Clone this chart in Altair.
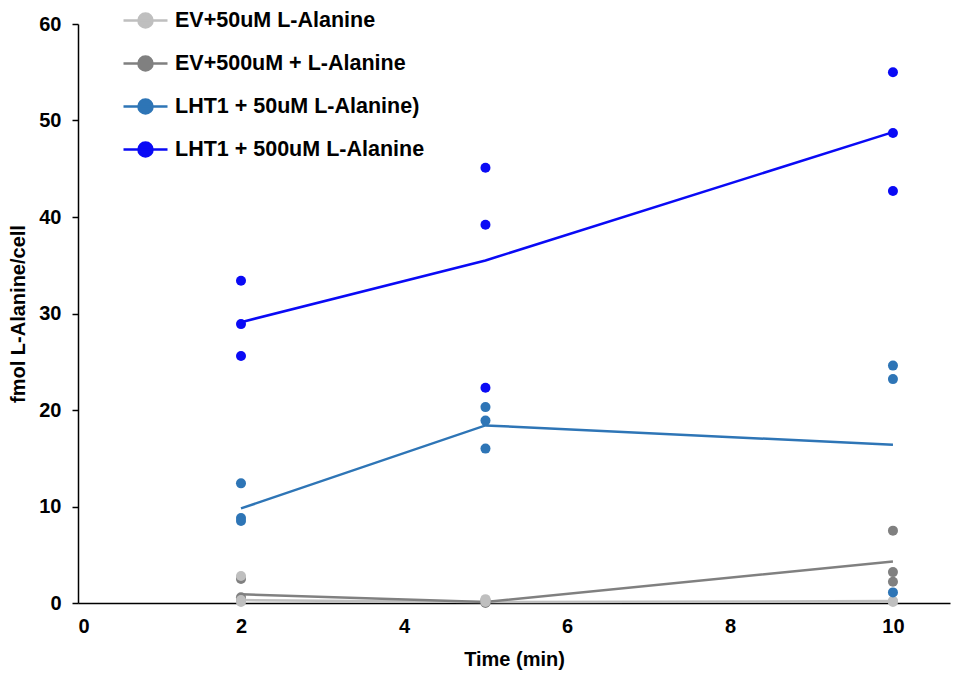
import altair as alt
import pandas as pd

series = ["EV+50uM L-Alanine", "EV+500uM + L-Alanine", "LHT1 + 50uM L-Alanine)", "LHT1 + 500uM L-Alanine"]
colors = ["#BFBFBF", "#808080", "#2E75B6", "#0A0AF5"]
times = [2, 5, 10]

# replicate measurements (3 per time point)
ev50 = [[2.8, 0.3, 0.1], [0.4, 0.2, 0.1], [0.2, 0.2, 0.1]]
ev500 = [[2.5, 0.6, 0.2], [0.3, 0.1, 0.0], [7.5, 3.2, 2.2]]
lht50 = [[12.4, 8.8, 8.5], [20.3, 18.9, 16.0], [24.6, 23.2, 1.1]]
lht500 = [[33.4, 28.9, 25.6], [45.1, 39.2, 22.3], [55.0, 48.7, 42.7]]

# mean line values
ev50_mean = [0.3, 0.1, 0.2]
ev500_mean = [0.9, 0.1, 4.3]
lht50_mean = [9.8, 18.4, 16.4]
lht500_mean = [29.1, 35.5, 48.8]

reps = [ev50, ev500, lht50, lht500]
means = [ev50_mean, ev500_mean, lht50_mean, lht500_mean]

pts = []
for s, r in zip(series, reps):
    for t, vals in zip(times, r):
        for v in vals:
            pts.append({"series": s, "time": t, "value": v})
pts = pd.DataFrame(pts)

lns = []
for s, m in zip(series, means):
    for t, v in zip(times, m):
        lns.append({"series": s, "time": t, "value": v})
lns = pd.DataFrame(lns)

FONT = "Liberation Sans"
color_scale = alt.Scale(domain=series, range=colors)

x_enc = alt.X("time:Q", title="Time (min)",
              scale=alt.Scale(domain=[0, 10.7], nice=False),
              axis=alt.Axis(values=[0, 2, 4, 6, 8, 10], grid=False, ticks=False,
                            labelPadding=13, titlePadding=13, domainColor="black",
                            domainWidth=1.5))
y_enc = alt.Y("value:Q", title="fmol L-Alanine/cell",
              scale=alt.Scale(domain=[0, 60], nice=False),
              axis=alt.Axis(values=[0, 10, 20, 30, 40, 50, 60], grid=False, tickSize=6,
                            tickColor="black", tickWidth=1.5, labelPadding=11,
                            titlePadding=10, domainColor="black", domainWidth=1.5))

sym_path = "M-1,0L1,0M0.32,0A0.32,0.32,0,1,1,-0.32,0A0.32,0.32,0,1,1,0.32,0Z"

legend = alt.Legend(orient="none", legendX=44, legendY=-27, padding=0,
                    symbolType=sym_path, symbolSize=1936, symbolStrokeWidth=2.5,
                    labelFont=FONT, labelFontSize=21.5, labelFontWeight="bold",
                    labelColor="black", labelOffset=6, rowPadding=7,
                    labelLimit=500)

lines = alt.Chart(lns).mark_line(strokeWidth=2.5).encode(
    x=x_enc, y=y_enc,
    stroke=alt.Stroke("series:N", scale=color_scale, sort=series, title=None, legend=legend),
    detail="series:N",
)

points = alt.Chart(pts).mark_point(filled=True, size=100, opacity=1).encode(
    x=x_enc, y=y_enc,
    fill=alt.Fill("series:N", scale=color_scale, sort=series, title=None, legend=legend),
    order=alt.Order("series:N"),
)

chart = alt.layer(lines, points).resolve_scale(fill="shared", stroke="shared").properties(
    width=872, height=579,
    autosize=alt.AutoSizeParams(type="none"),
    padding={"left": 70, "top": 16, "right": 5, "bottom": 70},
).configure_view(stroke=None).configure_axis(
    labelFont=FONT, labelFontSize=20, labelFontWeight="bold", labelColor="black",
    titleFont=FONT, titleFontSize=20, titleFontWeight="bold", titleColor="black",
)

chart.save("out.html", embed_options={"renderer": "svg", "actions": False})
